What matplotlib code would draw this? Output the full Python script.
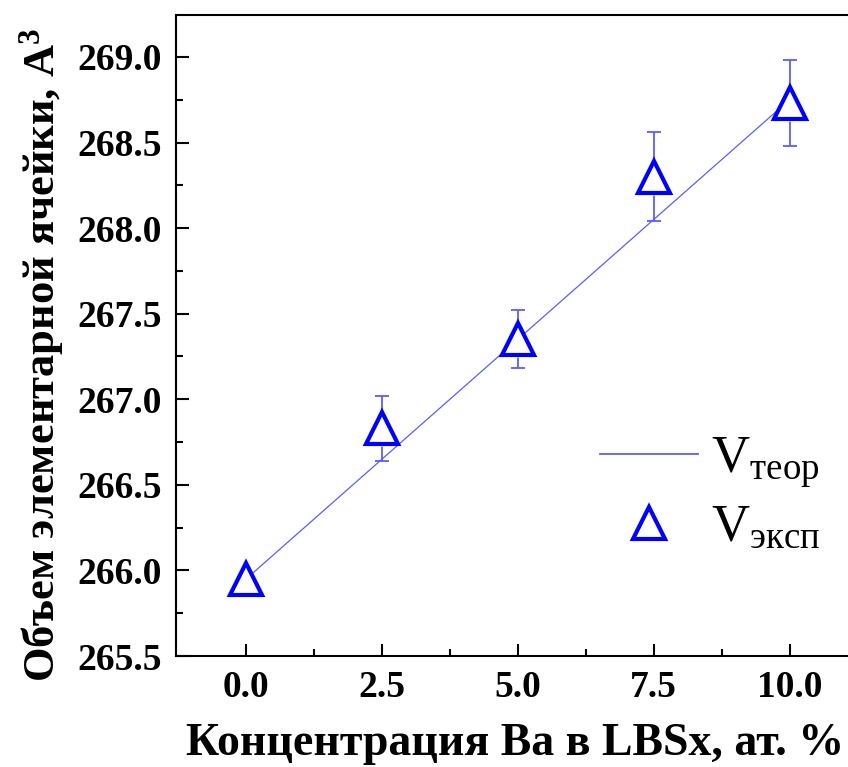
import matplotlib
matplotlib.use("Agg")
import matplotlib.pyplot as plt
from matplotlib.lines import Line2D

plt.rcParams['font.family'] = ['Liberation Serif', 'DejaVu Serif']
plt.rcParams['mathtext.fontset'] = 'custom'
plt.rcParams['mathtext.rm'] = 'Liberation Serif'
plt.rcParams['mathtext.bf'] = 'Liberation Serif:bold'
plt.rcParams['mathtext.default'] = 'regular'

# data
conc = [0.0, 2.5, 5.0, 7.5, 10.0]
v_exp = [265.95, 266.83, 267.35, 268.30, 268.73]
v_err = [0.0, 0.19, 0.17, 0.26, 0.25]
v_teor = [265.95, 266.65, 267.35, 268.05, 268.75]

xticks = [0.0, 2.5, 5.0, 7.5, 10.0]
yticks = [265.5, 266.0, 266.5, 267.0, 267.5, 268.0, 268.5, 269.0]

line_col = '#5c5cff'
mark_col = '#0000ff'

fig = plt.figure(figsize=(8.48, 7.67), dpi=100)
ax = fig.add_axes([0.2075, 0.1447, 0.8005, 0.8357])

# error bars, then white halo so bars stop short of the symbols (Origin style)
ax.errorbar(conc, v_exp, yerr=v_err, fmt='none', ecolor=line_col,
            elinewidth=1.3, capsize=5, capthick=1.3, zorder=2)
ax.plot(conc, v_exp, 'o', ms=26, mfc='white', mec='none', zorder=3)
ax.plot(conc, v_teor, '-', color=line_col, lw=0.9, zorder=4)
ax.plot(conc, v_exp, '^', ms=23, mfc='white', mec=mark_col, mew=3, zorder=5)

ax.set_xlim(-1.29, 11.2)
ax.set_ylim(265.5, 269.245)
ax.set_xticks(xticks)
ax.set_yticks(yticks)
ax.set_xticklabels([f"{t:.1f}" for t in xticks])
ax.set_yticklabels([f"{t:.1f}" for t in yticks])
ax.set_xticks([1.25, 3.75, 6.25, 8.75], minor=True)
ax.set_yticks([265.75 + 0.5 * i for i in range(7)], minor=True)

ax.tick_params(which='major', direction='in', length=9, width=1.5,
               labelsize=27, pad=10)
ax.tick_params(which='minor', direction='in', length=5, width=1.5)
for lab in ax.get_xticklabels() + ax.get_yticklabels():
    lab.set_fontweight('bold')
for s in ax.spines.values():
    s.set_linewidth(1.5)
ax.spines['right'].set_visible(False)

ax.set_xlabel("Концентрация Ba в LBSx, ат. %", fontsize=33,
              fontweight='bold', labelpad=13)
ax.set_ylabel(r"Объем элементарной ячейки, A$^{\mathbf{3}}$", fontsize=32,
              fontweight='bold', labelpad=8)
ax.yaxis.label.set_y(0.47)

handles = [Line2D([], [], color=line_col, lw=1.3),
           Line2D([], [], ls='none', marker='^', ms=23, mfc='white',
                  mec=mark_col, mew=3)]
labels = [r'V$_{\mathregular{теор}}$', r'V$_{\mathregular{эксп}}$']
ax.legend(handles, labels, frameon=False, fontsize=38, handlelength=1.85,
          handletextpad=0.25, labelspacing=0.27, borderpad=0,
          borderaxespad=0, loc='upper left', bbox_to_anchor=(0.625, 0.344))

fig.savefig("out.png", dpi=100)
